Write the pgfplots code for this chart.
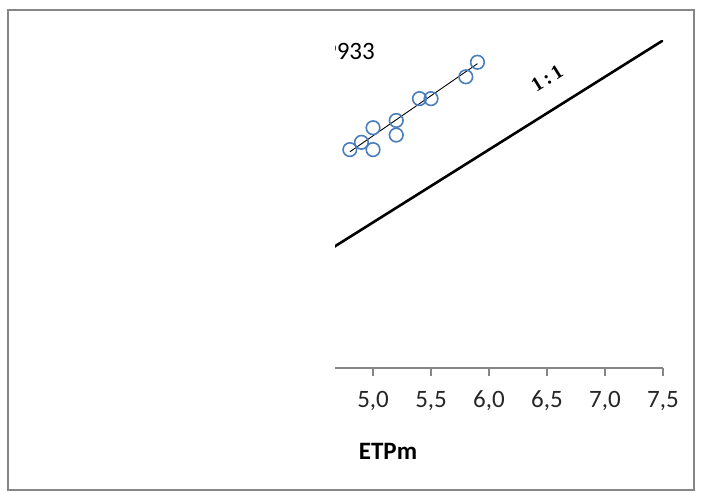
\documentclass[border=0pt]{standalone}
\usepackage{pgfplots}
\pgfplotsset{compat=1.18}
\usepackage{fontspec}
\setmainfont{Carlito}
\newfontfamily\seriffont{Liberation Serif}
\definecolor{mblue}{HTML}{4A7EBB}
\definecolor{axgray}{HTML}{868686}
\begin{document}
\begin{tikzpicture}[x=1pt,y=1pt]
\path (0,0) rectangle (702,493);
\draw[axgray, line width=1.2pt] (8,3) rectangle (694,483);
\begin{axis}[at={(335pt,125pt)}, anchor=south west, scale only axis,
  width=328pt, height=327.6pt,
  xmin=4.672, xmax=7.5, ymin=3, ymax=7.5,
  axis x line=bottom, axis y line=none,
  x axis line style={-, axgray, line width=1.2pt},
  xtick={5,5.5,6,6.5,7,7.5},
  tick align=outside, major tick length=8pt,
  tick style={axgray, line width=1.2pt},
  xticklabel style={font=\fontsize{25}{27}\selectfont, text=black!85, anchor=base, yshift=-32pt},
  xticklabel={\pgfmathprintnumber[fixed, fixed zerofill, precision=1, use comma, assume math mode=true]{\tick}},
  ]
\addplot[black, line width=2.6pt] coordinates {(3,3) (7.5,7.5)};
\addplot[black, line width=0.9pt] coordinates {(4.8,5.97) (5.9,7.18)};
\addplot[only marks, mark=o, mark size=6.8pt, mblue, mark options={line width=1.6pt}] coordinates {
(4.8,6.0) (4.9,6.1) (5.0,6.3) (5.0,6.0) (5.2,6.4) (5.2,6.2) (5.4,6.7) (5.5,6.7) (5.8,7.0) (5.9,7.2)};
\node[rotate=32, font=\seriffont\bfseries\fontsize{20}{22}\selectfont] at (axis cs:6.5,6.98) {1\,:\,1};
\end{axis}
\begin{scope}
\clip (335,0) rectangle (702,493);
\node[anchor=east, font=\fontsize{25}{27}\selectfont, inner sep=0pt] at (375,441.5) {R$^2$ = 0,9933};
\end{scope}
\node[font=\bfseries\fontsize{25}{27}\selectfont] at (388,42) {ETPm};
\end{tikzpicture}
\end{document}
